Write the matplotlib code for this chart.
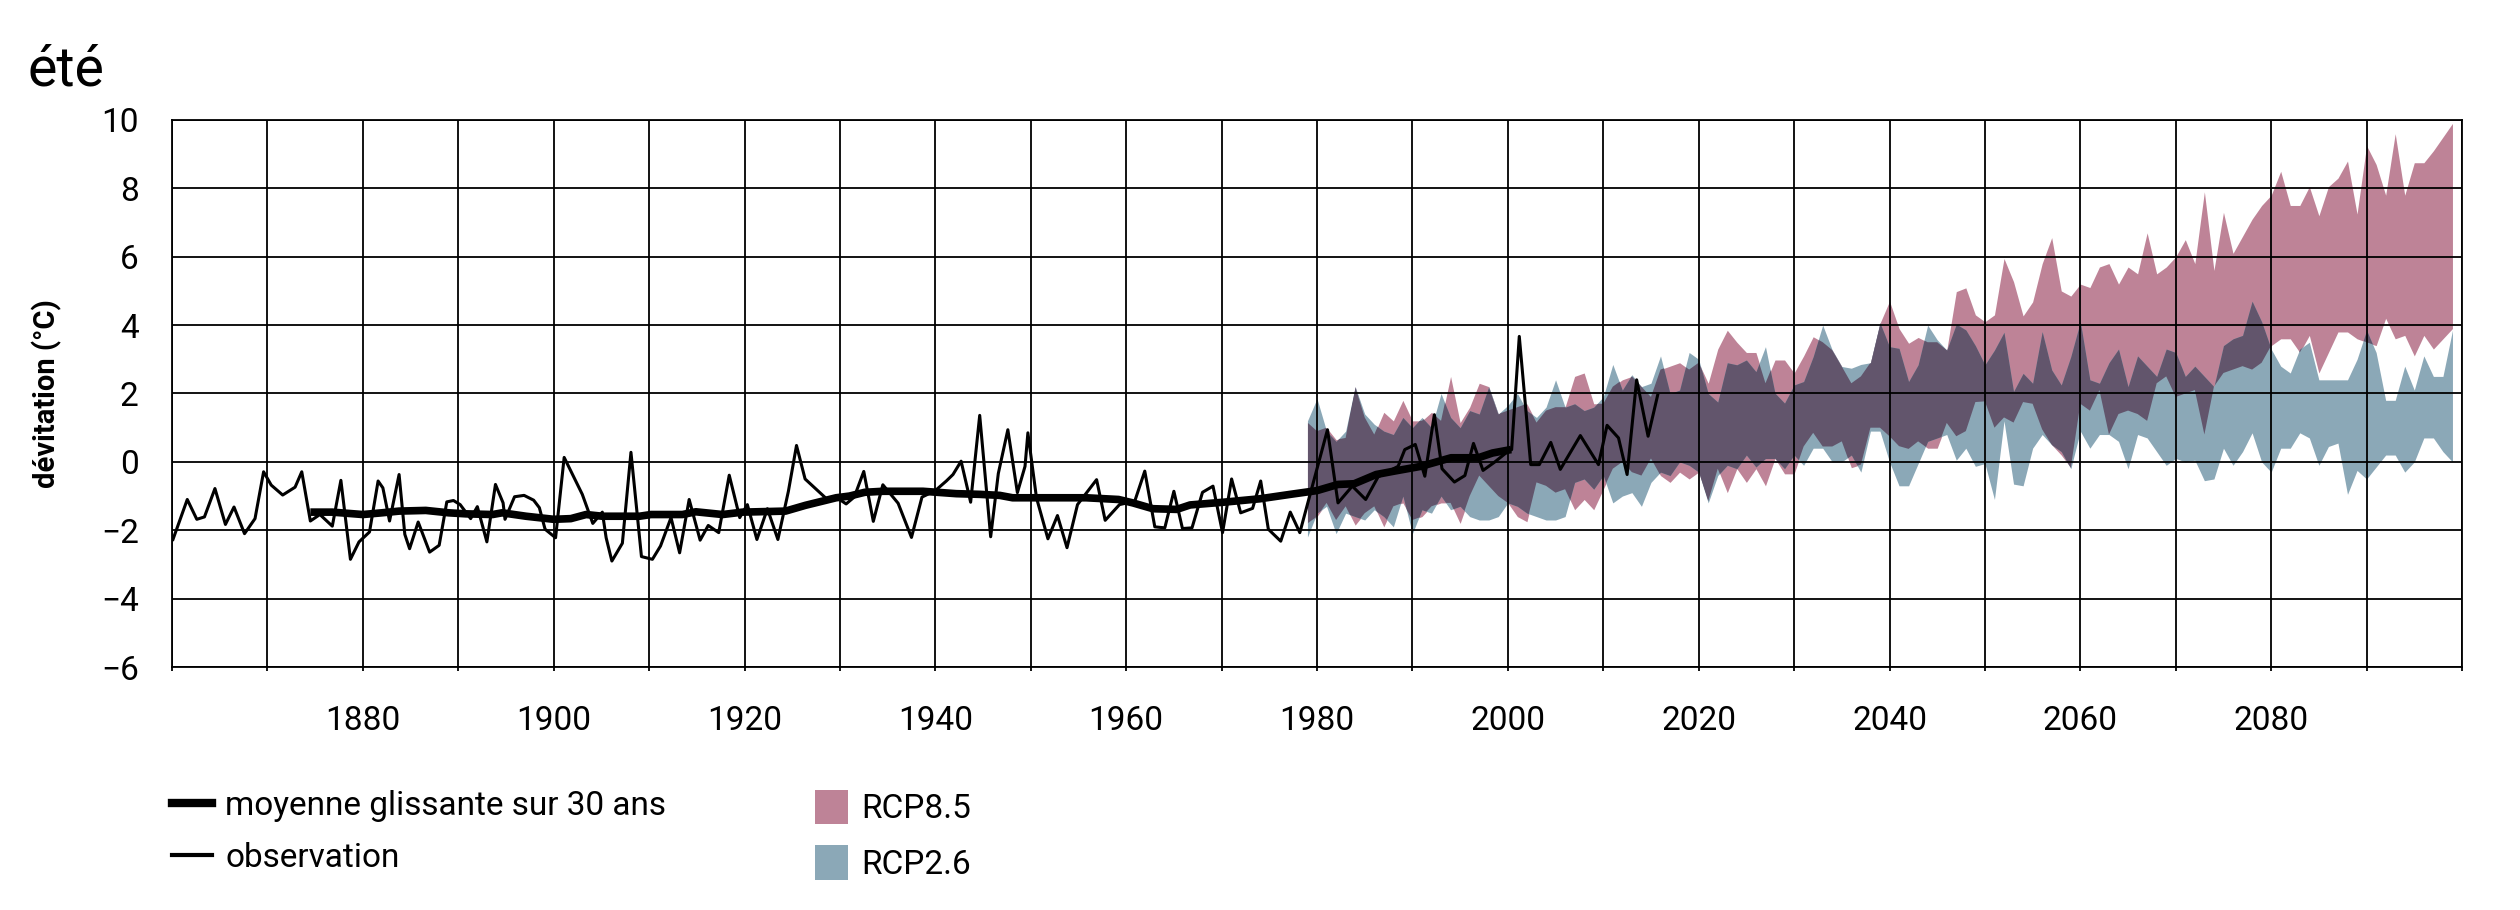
import numpy as np
import matplotlib
matplotlib.use('Agg')
import matplotlib.pyplot as plt
from matplotlib.lines import Line2D
from matplotlib.patches import Patch

plt.rcParams['font.family'] = ['Roboto', 'DejaVu Sans']

# Observation (summer temperature deviation)
obs_years = [1860.1, 1861.6, 1862.6, 1863.4, 1864.5, 1865.6, 1866.5, 1867.6, 1868.7, 1869.6,
             1870.4, 1871.6, 1872.9, 1873.6, 1874.5, 1875.5, 1876.8, 1877.7, 1878.7, 1879.6,
             1880.7, 1881.6, 1882.1, 1882.8, 1883.8, 1884.4, 1884.9, 1885.8, 1887.0, 1888.0,
             1888.8, 1889.5, 1890.2, 1891.3, 1892.0, 1893.0, 1893.9, 1894.7, 1894.9, 1895.9,
             1896.9, 1897.9, 1898.5, 1899.1, 1900.2, 1901.1, 1903.0, 1904.1, 1905.1, 1905.5,
             1906.1, 1907.2, 1908.1, 1909.2, 1910.35, 1911.2, 1912.3, 1913.2, 1914.2, 1915.35,
             1916.2, 1917.3, 1918.4, 1919.5, 1920.3, 1921.3, 1922.4, 1923.5, 1924.6, 1925.45,
             1926.35, 1928.6, 1929.6, 1930.65, 1931.5, 1932.5, 1933.5, 1934.5, 1936.1, 1937.5,
             1938.6, 1940.0, 1941.15, 1941.85, 1942.7, 1943.7, 1944.65, 1945.8, 1946.6, 1947.6,
             1948.6, 1949.4, 1949.7, 1950.6, 1951.8, 1952.8, 1953.8, 1954.9, 1956.9, 1957.8,
             1959.3, 1960.9, 1961.95, 1963.0, 1964.05, 1965.0, 1965.9, 1966.9, 1968.0, 1969.1,
             1970.1, 1971.05, 1972.0, 1973.25, 1974.1, 1974.9, 1976.2, 1977.2, 1978.2, 1981.1,
             1982.2, 1983.7, 1985.1, 1986.4, 1987.4, 1988.5, 1989.2, 1990.3, 1991.3, 1992.3,
             1993.1, 1994.4, 1995.5, 1996.4, 1997.4, 1998.6, 1999.8, 2000.4, 2001.2, 2002.4,
             2003.3, 2004.5, 2005.5, 2007.6, 2009.5, 2010.4, 2011.6, 2012.5, 2013.5, 2014.7,
             2015.7]
obs_values = [-2.27, -1.10, -1.68, -1.61, -0.78, -1.83, -1.32, -2.10, -1.66, -0.29,
              -0.68, -0.97, -0.74, -0.29, -1.73, -1.54, -1.88, -0.54, -2.85, -2.34,
              -2.05, -0.56, -0.76, -1.73, -0.37, -2.12, -2.54, -1.76, -2.64, -2.44,
              -1.17, -1.13, -1.25, -1.66, -1.31, -2.34, -0.66, -1.20, -1.68, -1.02,
              -0.98, -1.12, -1.34, -1.97, -2.22, 0.13, -0.95, -1.80, -1.47, -2.22,
              -2.90, -2.38, 0.28, -2.77, -2.85, -2.46, -1.63, -2.66, -1.10, -2.29,
              -1.86, -2.07, -0.39, -1.63, -1.25, -2.27, -1.37, -2.27, -0.86, 0.48,
              -0.50, -1.08, -1.03, -1.23, -1.03, -0.28, -1.74, -0.67, -1.21, -2.21,
              -1.03, -0.84, -0.56, -0.37, 0.02, -1.18, 1.36, -2.19, -0.34, 0.94,
              -0.90, -0.13, 0.85, -1.05, -2.25, -1.57, -2.51, -1.25, -0.52, -1.71,
              -1.25, -1.15, -0.27, -1.90, -1.93, -0.86, -1.95, -1.93, -0.89, -0.71,
              -2.07, -0.50, -1.49, -1.36, -0.56, -1.97, -2.32, -1.47, -2.07, 0.94,
              -1.20, -0.71, -1.10, -0.44, -0.29, -0.13, 0.36, 0.51, -0.42, 1.38,
              -0.20, -0.59, -0.40, 0.54, -0.25, -0.01, 0.26, 0.36, 3.67, -0.08,
              -0.08, 0.57, -0.22, 0.77, -0.08, 1.07, 0.70, -0.37, 2.40, 0.75,
              1.95]

# 30-year moving average
ma_years = [1874.5, 1876.8, 1880.0, 1882.0, 1883.8, 1886.6, 1889.0, 1890.8, 1893.6, 1894.6,
            1897.1, 1900.0, 1901.8, 1903.4, 1905.1, 1909.0, 1910.2, 1913.5, 1914.9, 1917.7,
            1919.8, 1924.3, 1926.4, 1929.6, 1931.0, 1932.6, 1934.5, 1938.7, 1942.2, 1944.65,
            1946.75, 1948.1, 1952.3, 1955.8, 1959.2, 1960.7, 1962.8, 1965.3, 1966.7, 1970.2,
            1974.0, 1977.2, 1980.0, 1982.2, 1983.9, 1986.2, 1988.1, 1990.9, 1994.05, 1996.9,
            1998.4, 2000.35]
ma_values = [-1.47, -1.47, -1.54, -1.49, -1.44, -1.42, -1.49, -1.52, -1.54, -1.49,
             -1.59, -1.68, -1.66, -1.54, -1.59, -1.59, -1.54, -1.54, -1.46, -1.54,
             -1.47, -1.44, -1.27, -1.05, -1.00, -0.89, -0.86, -0.86, -0.93, -0.95,
             -0.98, -1.05, -1.05, -1.05, -1.10, -1.20, -1.37, -1.39, -1.26, -1.18,
             -1.08, -0.95, -0.84, -0.66, -0.64, -0.37, -0.27, -0.13, 0.12, 0.12,
             0.26, 0.36]

# Scenario ranges 1979-2099
band_years = np.arange(1979, 2100)
rcp85_high = [1.15, 0.9, 1.0, 0.65, 0.7, 2.2, 1.3, 0.8, 1.45, 1.2, 1.8,
              1.2, 1.2, 1.45, 1.2, 2.5, 1.15, 1.6, 2.3, 2.2, 1.4,
              1.5, 1.6, 1.7, 1.15, 1.5, 1.6, 1.6, 2.5, 2.6, 1.7,
              1.7, 2.2, 2.4, 2.5, 2.2, 1.9, 2.7, 2.8, 2.9, 2.7,
              2.9, 2.3, 3.3, 3.85, 3.5, 3.2, 3.2, 2.3, 2.98, 2.98,
              2.6, 3.1, 3.66, 3.5, 3.27, 2.79, 2.3, 2.5, 2.9, 4.05,
              4.7, 3.9, 3.47, 3.64, 3.5, 3.5, 3.27, 4.98, 5.09, 4.3,
              4.1, 4.3, 5.95, 5.27, 4.27, 4.68, 5.8, 6.56, 5.0, 4.85,
              5.2, 5.1, 5.7, 5.8, 5.2, 5.7, 5.5, 6.7, 5.5, 5.7,
              6.0, 6.5, 5.8, 7.9, 5.6, 7.3, 6.1, 6.6, 7.1, 7.5,
              7.8, 8.5, 7.5, 7.5, 8.05, 7.2, 8.05, 8.3, 8.8, 7.25,
              9.25, 8.7, 7.8, 9.6, 7.8, 8.75, 8.75, 9.1, 9.5, 9.9]
rcp85_low = [-1.8, -1.6, -1.2, -1.7, -1.3, -1.85, -1.5, -1.3, -1.9, -1.3, -1.2,
             -1.7, -1.6, -1.3, -1.2, -1.2, -1.8, -1.0, -0.4, -0.7, -1.0,
             -1.2, -1.6, -1.75, -0.6, -0.7, -0.9, -0.8, -1.4, -1.1, -1.4,
             -0.8, -0.2, 0.0, -0.3, -0.4, 0.1, -0.4, -0.6, -0.3, -0.5,
             -0.3, -1.15, -0.2, -0.9, -0.2, -0.6, -0.2, -0.7, 0.1, -0.35,
             -0.35, 0.45, 0.85, 0.45, 0.45, 0.6, -0.17, -0.08, 1.0, 1.0,
             0.75, 0.46, 0.38, 0.6, 0.4, 0.4, 1.14, 0.75, 0.9, 1.75,
             1.77, 1.0, 1.3, 1.15, 1.75, 1.7, 0.95, 0.5, 0.2, -0.17,
             1.7, 1.5, 2.1, 0.8, 1.4, 1.5, 1.4, 1.2, 2.3, 2.5,
             1.9, 2.0, 2.1, 0.8, 2.2, 2.6, 2.7, 2.8, 2.7, 2.9,
             3.4, 3.6, 3.6, 3.2, 3.7, 2.6, 3.2, 3.8, 3.8, 3.6,
             3.5, 3.4, 4.2, 3.6, 3.7, 3.1, 3.7, 3.3, 3.6, 3.9]
rcp26_high = [1.2, 1.85, 0.9, 0.6, 0.9, 2.2, 1.4, 1.1, 0.9, 0.8, 1.3,
              1.0, 1.3, 1.0, 2.0, 1.3, 1.0, 1.5, 1.4, 2.2, 1.4,
              1.65, 2.0, 1.5, 1.3, 1.6, 2.4, 1.6, 1.7, 1.5, 1.6,
              1.9, 2.85, 2.1, 2.55, 2.2, 2.3, 3.1, 2.0, 2.1, 3.2,
              3.0, 2.0, 1.75, 2.9, 2.84, 2.98, 2.64, 3.37, 2.01, 1.72,
              2.25, 2.35, 3.08, 4.0, 3.27, 2.79, 2.74, 2.85, 2.9, 4.07,
              3.37, 3.32, 2.35, 2.84, 4.0, 3.57, 3.27, 4.03, 3.86, 3.4,
              2.84, 3.27, 3.79, 2.06, 2.59, 2.3, 3.81, 2.69, 2.25, 3.08,
              4.1, 2.4, 2.3, 2.9, 3.3, 2.2, 3.1, 2.8, 2.5, 3.3,
              3.2, 2.5, 2.8, 2.5, 2.2, 3.4, 3.6, 3.7, 4.7, 4.1,
              3.3, 2.8, 2.6, 3.3, 3.5, 2.4, 2.4, 2.4, 2.4, 3.0,
              3.85, 3.2, 1.8, 1.8, 2.8, 2.1, 3.1, 2.5, 2.5, 3.85]
rcp26_low = [-2.2, -1.5, -1.3, -2.1, -1.5, -1.6, -1.7, -1.4, -1.6, -1.9, -1.0,
             -2.1, -1.4, -1.5, -1.0, -1.4, -1.3, -1.6, -1.7, -1.7, -1.6,
             -1.2, -1.3, -1.5, -1.6, -1.7, -1.7, -1.6, -0.6, -0.5, -0.8,
             -0.4, -1.2, -1.0, -0.9, -1.3, -0.6, -0.3, -0.4, 0.0, -0.1,
             -0.3, -1.2, -0.4, -0.1, -0.2, 0.2, -0.15, 0.1, 0.1, -0.2,
             0.2, -0.1, 0.4, 0.4, 0.0, 0.0, 0.2, -0.3, 0.9, 0.9,
             0.0, -0.7, -0.7, -0.05, 0.6, 0.7, 0.8, 0.05, 0.4, -0.13,
             -0.05, -1.1, 1.2, -0.65, -0.7, 0.4, 0.8, 0.5, 0.3, -0.2,
             0.9, 0.4, 0.8, 0.8, 0.6, -0.2, 0.8, 0.7, 0.3, -0.1,
             0.1, 0.0, 0.05, -0.55, -0.5, 0.4, -0.1, 0.3, 0.85, 0.0,
             -0.3, 0.4, 0.4, 0.85, 0.7, -0.1, 0.45, 0.55, -0.95, -0.25,
             -0.5, -0.15, 0.2, 0.2, -0.3, 0.0, 0.7, 0.7, 0.3, 0.0]

x_ticks = np.arange(1860, 2101, 10)
x_labels = [str(y) if (y % 20 == 0 and 1880 <= y <= 2080) else '' for y in x_ticks]
y_ticks = np.arange(-6, 11, 2)

pink = '#be8397'
blue = '#8ba8b7'
dark = '#62556c'

fig = plt.figure(figsize=(25.2, 9.1), dpi=100)
ax = fig.add_axes([172 / 2520, 1 - 667 / 910, 2290 / 2520, 547 / 910])

# ranges; the overlap is drawn darker, clipped to the RCP8.5 area
fill85 = ax.fill_between(band_years, rcp85_low, rcp85_high, color=pink, lw=0, zorder=1)
ax.fill_between(band_years, rcp26_low, rcp26_high, color=blue, lw=0, zorder=1)
overlap = ax.fill_between(band_years, rcp26_low, rcp26_high, color=dark, lw=0, zorder=1.5)
overlap.set_clip_path(fill85.get_paths()[0], ax.transData)

ax.plot(obs_years, obs_values, color='black', lw=2.2, zorder=4)
ax.plot(ma_years, ma_values, color='black', lw=5.5, solid_capstyle='butt', zorder=5)

ax.set_xlim(1860, 2100)
ax.set_ylim(-6, 10)
ax.set_xticks(x_ticks)
ax.set_xticklabels(x_labels)
ax.set_yticks(y_ticks)
ax.grid(True, color='black', lw=1.3, zorder=3)
ax.set_axisbelow(False)
for s in ax.spines.values():
    s.set_color('black')
    s.set_linewidth(1.3)
    s.set_zorder(6)

ax.tick_params(axis='x', length=3, width=1.3, pad=24, labelsize=24)
ax.tick_params(axis='y', length=0, pad=24, labelsize=24)

ax.set_ylabel('dévitation (°C)', fontsize=21, fontweight='bold', labelpad=28)
fig.text(27 / 2520, 1 - 70 / 910, 'été', fontsize=40, va='center', ha='left')

# legend in two blocks
h1 = [Line2D([], [], color='black', lw=6), Line2D([], [], color='black', lw=3)]
fig.legend(h1, ['moyenne glissante sur 30 ans', 'observation'],
           loc='upper left', bbox_to_anchor=(172 / 2520, 1 - 790 / 910),
           frameon=False, fontsize=24, handlelength=1.2, handletextpad=0.4,
           labelspacing=0.6, borderpad=0, borderaxespad=0)
h2 = [Patch(facecolor=pink, lw=0), Patch(facecolor=blue, lw=0)]
fig.legend(h2, ['RCP8.5', 'RCP2.6'],
           loc='upper left', bbox_to_anchor=(815 / 2520, 1 - 790 / 910),
           frameon=False, fontsize=24, handlelength=1.0, handleheight=1.2,
           handletextpad=0.4, labelspacing=0.6, borderpad=0, borderaxespad=0)

fig.savefig('out.png', dpi=100)
